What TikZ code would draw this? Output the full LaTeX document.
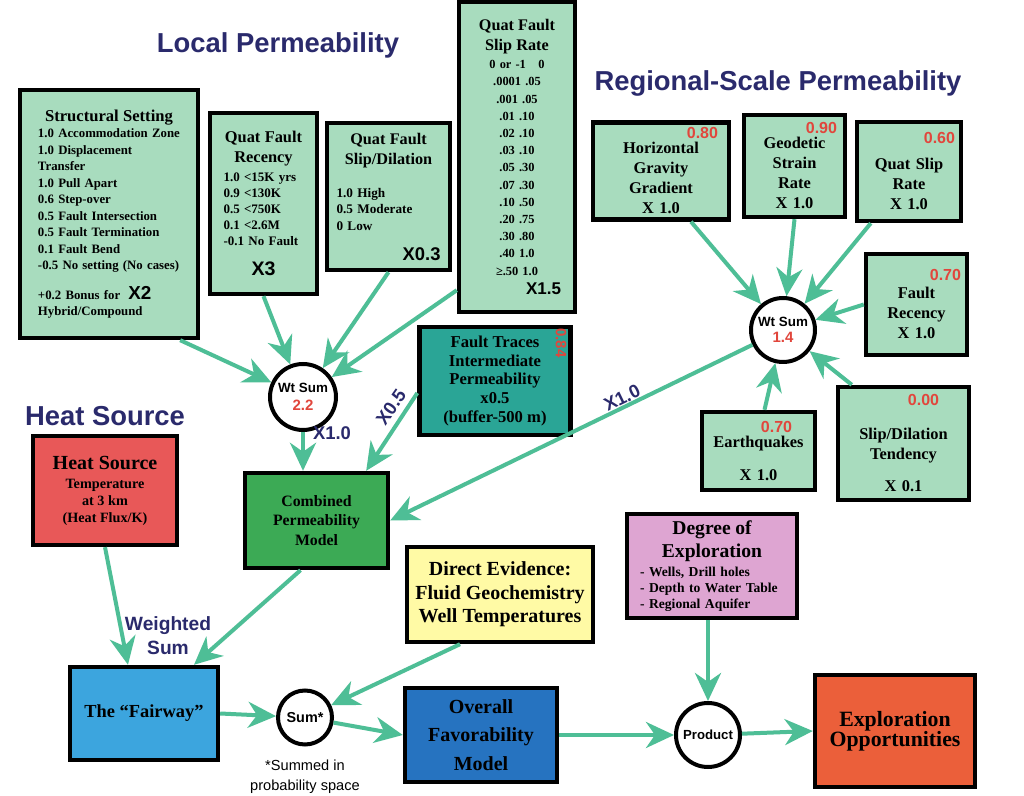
\documentclass[tikz,border=0pt]{standalone}
\usepackage{fontspec}
\setmainfont{Liberation Serif}
\setsansfont{Liberation Sans}
\usetikzlibrary{arrows.meta,positioning}

\definecolor{mint}{RGB}{168,220,190}
\definecolor{flowgreen}{RGB}{78,190,150}
\definecolor{navy}{RGB}{42,42,108}
\definecolor{valred}{RGB}{225,70,60}
\definecolor{traceteal}{RGB}{42,165,150}
\definecolor{combgreen}{RGB}{60,170,85}
\definecolor{heatred}{RGB}{232,88,88}
\definecolor{evidyellow}{RGB}{255,250,165}
\definecolor{explpink}{RGB}{222,165,210}
\definecolor{fairblue}{RGB}{60,165,222}
\definecolor{favblue}{RGB}{38,115,192}
\definecolor{oppred}{RGB}{235,95,58}

\newcommand{\setfs}[2]{\fontsize{#1}{#2}\selectfont}
\newcommand{\redval}[1]{{\sffamily\bfseries\fontsize{8}{8}\selectfont\color{valred}#1}}
\newcommand{\midline}[1]{\hspace*{\fill}{#1}\hspace*{\fill}\mbox{}}

\begin{document}
\begin{tikzpicture}[%
    x=0.5pt, y=-0.5pt,
    panel/.style={
      rectangle,
      draw=black,
      line width=2.2pt,
      fill=mint,
      align=center,
      inner sep=1pt
    },
    sumcircle/.style={
      circle,
      draw=black,
      line width=2pt,
      fill=white,
      align=center,
      inner sep=0pt,
      font=\sffamily\bfseries\setfs{6.7}{9}
    },
    flow/.style={
      draw=flowgreen,
      line width=2pt,
      -{Stealth[length=14pt,width=13pt,inset=4.5pt]}
    },
    heading/.style={
      text=navy,
      font=\sffamily\bfseries\setfs{13.7}{16}
    },
    factor/.style={
      text=navy,
      font=\sffamily\bfseries\setfs{9.2}{11}
    }
  ]
  \path[fill=white, use as bounding box] (0,0) rectangle (1024,796);

  % headings
  \node[heading] (tlocal) at (278,45) {Local Permeability};
  \node[heading] (tregion) at (778,83) {Regional-Scale Permeability};
  \node[heading] (theat) at (105,416) {Heat Source};

  % local permeability
  \node[panel, minimum width=89pt, minimum height=124pt, text width=71pt,
    align=left, font=\bfseries\setfs{6.4}{8.25}] (struct) at (109,214) {%
    \midline{\setfs{8.3}{8.25}Structural Setting}\\
    1.0 Accommodation Zone\\
    1.0 Displacement\\
    Transfer\\
    1.0 Pull Apart\\
    0.6 Step-over\\
    0.5 Fault Intersection\\
    0.5 Fault Termination\\
    0.1 Fault Bend\\
    -0.5 No setting (No cases)\\[6.5pt]
    +0.2 Bonus for\hspace{4pt}{\sffamily\setfs{9.4}{8.25}X2}\\
    Hybrid/Compound};
  \node[panel, minimum width=53.5pt, minimum height=90.5pt, text width=40pt,
    align=left, font=\bfseries\setfs{6.5}{8.1}] (recency) at (263.5,203.5) {%
    \midline{\setfs{8.2}{8.1}Quat Fault}\\[1.9pt]
    \midline{\setfs{8.2}{8.1}Recency}\\[1.4pt]
    1.0 <15K yrs\\
    0.9 <130K\\
    0.5 <750K\\
    0.1 <2.6M\\
    -0.1 No Fault\\[6.9pt]
    \midline{\sffamily\setfs{9.8}{8.1}X3}};
  \node[panel, minimum width=61.5pt, minimum height=73.5pt, text width=52pt,
    align=left, font=\bfseries\setfs{6.6}{8.25}] (slipdil) at (388.5,196.5) {%
    \midline{\setfs{8.1}{8.25}Quat Fault}\\[1.75pt]
    \midline{\setfs{8.1}{8.25}Slip/Dilation}\\[8.25pt]
    1.0 High\\
    0.5 Moderate\\
    0 Low\\[6.75pt]
    \hspace*{\fill}{\sffamily\setfs{9.2}{8.25}X0.3}\mbox{}};
  \node[panel, minimum width=58pt, minimum height=155pt, text width=52pt,
    font=\bfseries\setfs{6.2}{8.6}] (sliprate) at (517,157) {%
    {\setfs{8.1}{8.6}Quat Fault\\[1.4pt]Slip Rate}\\[0.4pt]
    0 or -1~~~0\\ .0001 .05\\ .001 .05\\ .01 .10\\ .02 .10\\ .03 .10\\
    .05 .30\\ .07 .30\\ .10 .50\\ .20 .75\\ .30 .80\\ .40 1.0\\ ≥.50 1.0\\[1pt]
    \hspace*{\fill}{\sffamily\setfs{8.5}{8.6}X1.5}\hspace*{4pt}\mbox{}};
  \node[panel, fill=traceteal, minimum width=75.5pt, minimum height=54pt,
    font=\bfseries\setfs{8.3}{9.3}] (ftr) at (495,381) {%
    Fault Traces\\ Intermediate\\ Permeability\\ x0.5\\ (buffer-500 m)};
  \node[rotate=-90, font=\sffamily\bfseries\setfs{7.5}{8}, text=valred]
    (v084) at (561,343) {0.84};

  % regional-scale permeability
  \node[panel, minimum width=68pt, minimum height=48.5pt, text width=57pt,
    font=\bfseries\setfs{8.2}{10}] (hgg) at (661,171) {%
    \hspace*{\fill}\redval{0.80}\\[-2.5pt]
    Horizontal\\ Gravity\\ Gradient\\ X 1.0};
  \node[panel, minimum width=50.5pt, minimum height=51pt, text width=42.5pt,
    font=\bfseries\setfs{8.2}{10}] (geod) at (794.5,166) {%
    \hspace*{\fill}\redval{0.90}\\[-2.5pt]
    Geodetic\\ Strain\\ Rate\\ X 1.0};
  \node[panel, minimum width=52pt, minimum height=49.5pt, text width=46pt,
    font=\bfseries\setfs{8.2}{10}] (qsr) at (909,171.5) {%
    \hspace*{\fill}\redval{0.60}\\[3pt]
    Quat Slip\\ Rate\\ X 1.0};
  \node[panel, minimum width=50.5pt, minimum height=50.5pt, text width=44.5pt,
    font=\bfseries\setfs{8.2}{10}] (frec) at (916.5,304.5) {%
    \hspace*{\fill}\redval{0.70}\\[-1pt]
    Fault\\ Recency\\ X 1.0};
  \node[panel, minimum width=65.5pt, minimum height=56.5pt, text width=60pt,
    font=\bfseries\setfs{8.2}{10}] (sdt) at (903.5,443.5) {%
    \hspace*{20pt}\redval{0.00}\\[7pt]
    Slip/Dilation\\ Tendency\\[6pt] X 0.1};
  \node[panel, minimum width=56.5pt, minimum height=39pt, text width=50pt,
    font=\bfseries\setfs{8.2}{10}] (eq) at (758.5,451) {%
    \hspace*{18pt}\redval{0.70}\\[-2.5pt]
    Earthquakes\\[6.5pt] X 1.0};

  % weighted sums
  \node[sumcircle, minimum size=33pt] (ws22) at (303,397) {%
    Wt Sum\\{\color{valred}\setfs{7.5}{9}2.2}};
  \node[sumcircle, minimum size=32pt] (ws14) at (783,330) {%
    Wt Sum\\[-1pt]{\color{valred}\setfs{7.5}{9}1.4}};

  % model chain
  \node[panel, fill=combgreen, minimum width=71.5pt, minimum height=47.5pt,
    font=\bfseries\setfs{7.9}{9.75}] (comb) at (316.5,520.5) {%
    Combined\\ Permeability\\ Model};
  \node[panel, fill=heatred, minimum width=72pt, minimum height=54.5pt,
    font=\bfseries\setfs{7.1}{8.5}] (heat) at (105,490.5) {%
    {\setfs{10}{8.5}Heat Source}\\[1pt]
    Temperature\\ at 3 km\\ (Heat Flux/K)};
  \node[panel, fill=evidyellow, minimum width=93pt, minimum height=47.5pt,
    font=\bfseries\setfs{10}{11.75}] (direct) at (500,594.5) {%
    Direct Evidence:\\ Fluid Geochemistry\\ Well Temperatures};
  \node[panel, fill=explpink, minimum width=85pt, minimum height=52pt,
    text width=72pt, align=left, font=\bfseries\setfs{6.8}{8}] (degree) at (712,566) {%
    \midline{\setfs{9.8}{8}Degree of}\\[1.5pt]
    \midline{\setfs{9.8}{8}Exploration}\\[1.5pt]
    - Wells, Drill holes\\
    - Depth to Water Table\\
    - Regional Aquifer};
  \node[panel, fill=fairblue, minimum width=74pt, minimum height=46.5pt,
    font=\bfseries\setfs{9.2}{11}] (fairway) at (144,713.5) {The “Fairway”};
  \node[sumcircle, minimum size=27pt, font=\sffamily\bfseries\setfs{7.2}{9}]
    (sumst) at (305,717.5) {Sum*};
  \node[panel, fill=favblue, minimum width=76pt, minimum height=47pt,
    font=\bfseries\setfs{10}{14.25}] (overall) at (481,735) {%
    Overall\\ Favorability\\ Model};
  \node[sumcircle, minimum size=32pt, font=\sffamily\bfseries\setfs{6.6}{9}]
    (product) at (708,735) {Product};
  \node[panel, fill=oppred, minimum width=80pt, minimum height=56pt,
    font=\bfseries\setfs{10.9}{10}] (explor) at (895,731) {%
    Exploration\\ Opportunities};

  % notes and weights
  \node[factor] (fx1) at (332,433) {X1.0};
  \node[factor, rotate=55] (fx2) at (391,407) {X0.5};
  \node[factor, rotate=26] (fx3) at (622,398) {X1.0};
  \node[factor, font=\sffamily\bfseries\setfs{9.6}{12}, align=center]
    (wsum) at (168,636) {Weighted\\Sum};
  \node[below=3pt of sumst, align=center, font=\sffamily\setfs{7.3}{10}]
    (sumnote) {*Summed in\\probability space};

  % connectors
  \draw[flow] ([xshift=-10pt]struct.south east) -- (ws22);
  \draw[flow] (recency.south) -- (ws22);
  \draw[flow] (slipdil.south) -- (ws22);
  \draw[flow] ([yshift=12pt]sliprate.south west) -- (ws22);
  \draw[flow] (ws22) -- (ws22 |- comb.north);
  \draw[flow] ([yshift=-6pt]ftr.west) -- ([xshift=-12pt]comb.north east);
  \draw[flow] (ws14) -- (comb.east);
  \draw[flow] ([xshift=15pt]hgg.south) -- (ws14);
  \draw[flow] (geod.south) -- (ws14);
  \draw[flow] ([xshift=8pt]qsr.south west) -- (ws14);
  \draw[flow] (frec.west) -- (ws14);
  \draw[flow] ([xshift=8pt]sdt.north west) -- (ws14);
  \draw[flow] ([xshift=3pt]eq.north) -- (ws14);
  \draw[flow] (heat.south) -- ([xshift=-8pt]fairway.north);
  \draw[flow] ([xshift=-8pt]comb.south) -- ([xshift=25pt]fairway.north);
  \draw[flow] (fairway.east) -- (sumst);
  \draw[flow] ([xshift=-20pt]direct.south) -- (sumst);
  \draw[flow] (sumst) -- (overall.west);
  \draw[flow] (overall.east) -- (product);
  \draw[flow] (degree.south -| product) -- (product);
  \draw[flow] (product) -- (explor.west);
\end{tikzpicture}
\end{document}
